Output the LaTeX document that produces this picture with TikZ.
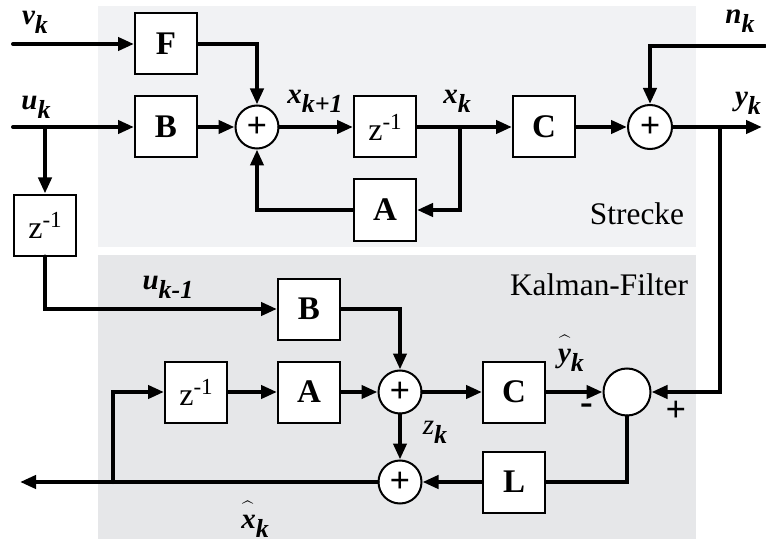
\documentclass[tikz,border=0pt]{standalone}
\usepackage{fontspec}
\setmainfont{Liberation Serif}
\usetikzlibrary{arrows.meta}

\newcommand{\sig}[2]{{\fontsize{14.5}{14.5}\selectfont\bfseries\itshape #1\raisebox{-4.5pt}{\fontsize{13}{13}\selectfont #2}}}
\newcommand{\hatsig}[2]{\sig{\rlap{\hspace{-0.5pt}\raisebox{4pt}{\mdseries$\widehat{\hbox{\phantom{#1}\kern1.5pt}}$}}#1}{#2}}
\newcommand{\zinv}{z\raisebox{5.5pt}{\fontsize{11.5}{11.5}\selectfont -1}}

\definecolor{strecke}{RGB}{241,242,244}
\definecolor{kalman}{RGB}{230,231,233}

\tikzset{
  blk/.style={draw,line width=1pt,fill=white,minimum width=31pt,minimum height=30.5pt,
    inner sep=0pt,font=\fontsize{16.5}{16.5}\selectfont\bfseries},
  dly/.style={blk,font=\fontsize{16}{16}\selectfont},
  sumc/.style={circle,draw,line width=1pt,fill=white,minimum size=21.5pt,inner sep=0pt,
    font=\fontsize{18}{18}\selectfont\bfseries},
  lbl/.style={inner sep=0pt},
  txt/.style={inner sep=0pt,font=\fontsize{15.7}{15.7}\selectfont}
}

\begin{document}
\begin{tikzpicture}[x=0.5pt,y=-0.5pt,line width=2pt,line cap=round,
  >={Triangle[length=8pt,width=6.5pt]}]
  \useasboundingbox (0,0) rectangle (766,540);
  % Hintergrund
  \fill[strecke] (98,6) rectangle (696,247);
  \fill[kalman] (98,255) rectangle (696,539);
  \node[txt] (strecke) at (637,214) {Strecke};
  \node[txt] (kalman) at (599,285) {Kalman-Filter};

  % Strecke
  \node[blk] (F) at (166,44) {F};
  \node[blk] (B) at (166,127) {B};
  \node[sumc] (s1) at (257,127) {+};
  \node[dly] (zt) at (385,127) {\zinv};
  \node[blk] (At) at (385,210) {A};
  \node[blk] (Ct) at (544,127) {C};
  \node[sumc,minimum size=22pt] (s2) at (650,127) {+};
  \coordinate (vin) at (13,44);
  \coordinate (uin) at (13,127);
  \coordinate (nin) at (765,46);
  \coordinate (yout) at (762,127);
  \coordinate (ju) at (45,127);
  \coordinate (jx) at (460,127);
  \coordinate (jy) at (720,127);

  % Kalman-Filter
  \node[dly] (zd) at (45,225) {\zinv};
  \node[blk] (Bk) at (309,309) {B};
  \node[dly] (zk) at (196,392) {\zinv};
  \node[blk] (Ak) at (309,392) {A};
  \node[sumc] (s3) at (400,392) {+};
  \node[blk] (Ck) at (514,392) {C};
  \node[sumc,minimum size=23.5pt] (d) at (627,392) {};
  \node[blk] (L) at (514,482) {L};
  \node[sumc] (s4) at (400,482) {+};
  \coordinate (xout) at (20,482);
  \coordinate (jxh) at (113,482);

  % Verbindungen
  \draw[->] (vin) -- (F);
  \draw[->] (F) -| (s1);
  \draw[->] (uin) -- (B);
  \draw[->] (B) -- (s1);
  \draw[->] (s1) -- (zt);
  \draw[->] (zt) -- (Ct);
  \draw[->] (jx) |- (At);
  \draw[->] (At) -| (s1);
  \draw[->] (Ct) -- (s2);
  \draw[->] (nin) -| (s2);
  \draw[->] (s2) -- (yout);
  \draw[->] (jy) |- (d);
  \draw[->] (ju) -- (zd);
  \draw[->] (zd) |- (Bk);
  \draw[->] (Bk) -| (s3);
  \draw[->] (zk) -- (Ak);
  \draw[->] (Ak) -- (s3);
  \draw[->] (s3) -- (Ck);
  \draw[->] (Ck) -- (d);
  \draw[->] (s3) -- (s4);
  \draw (d) |- (L);
  \draw[->] (L) -- (s4);
  \draw[->] (s4) -- (xout);
  \draw[->] (jxh) |- (zk);

  % Signale
  \node[lbl] (lv) at (35,22) {\sig{v}{k}};
  \node[lbl] (lu) at (36,107) {\sig{u}{k}};
  \node[lbl] (lx1) at (315,101) {\sig{x}{k+1}};
  \node[lbl] (lx) at (457,101) {\sig{x}{k}};
  \node[lbl] (ln) at (740,21) {\sig{n}{k}};
  \node[lbl] (ly) at (748,103) {\sig{y}{k}};
  \node[lbl] (lu1) at (168,287) {\sig{u}{k-1}};
  \node[lbl] (lyh) at (571,353) {\hatsig{y}{k}};
  \node[lbl] (lz) at (435,432) {\sig{{\mdseries z}}{k}};
  \node[lbl] (lxh) at (255,519) {\hatsig{x}{k}};
  \node[lbl,font=\fontsize{19}{19}\selectfont\bfseries] (minus) at (587,409) {-};
  \node[lbl,font=\fontsize{18}{18}\selectfont\bfseries] (plus) at (676,411) {+};
\end{tikzpicture}
\end{document}
